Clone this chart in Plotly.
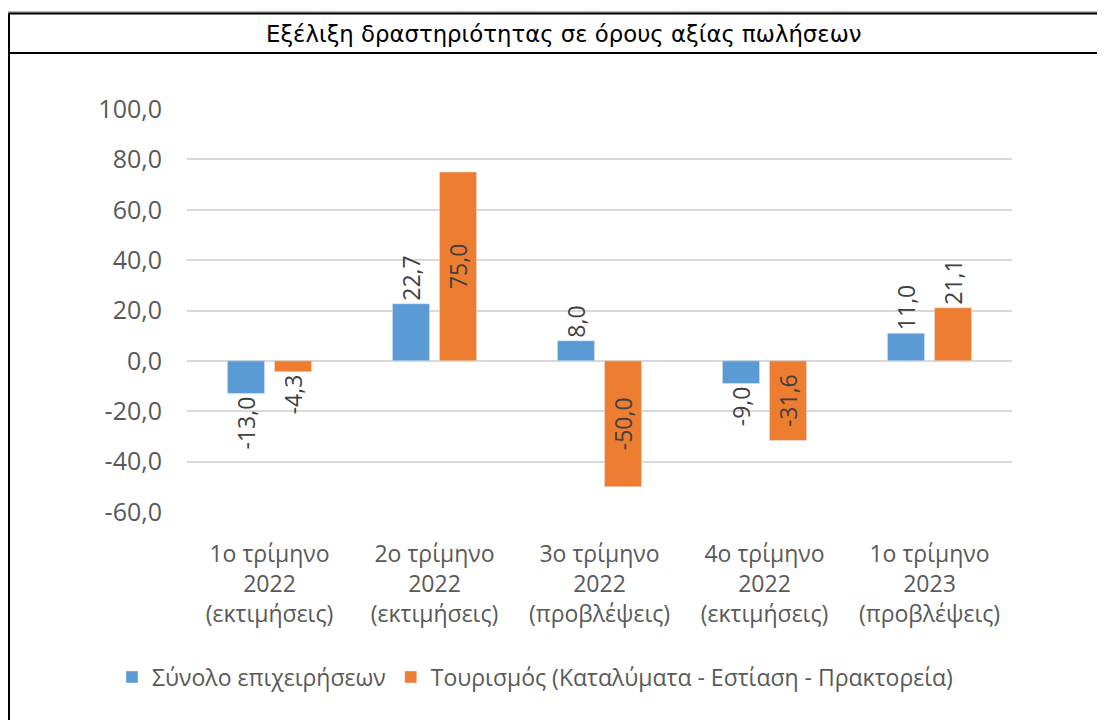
import plotly.graph_objects as go

# τρίμηνα και τιμές (%)
categories = [
    "1ο τρίμηνο<br>2022<br>(εκτιμήσεις)",
    "2ο τρίμηνο<br>2022<br>(εκτιμήσεις)",
    "3ο τρίμηνο<br>2022<br>(προβλέψεις)",
    "4ο τρίμηνο<br>2022<br>(εκτιμήσεις)",
    "1ο τρίμηνο<br>2023<br>(προβλέψεις)",
]
synolo = [-13.0, 22.7, 8.0, -9.0, 11.0]
tourismos = [-4.3, 75.0, -50.0, -31.6, 21.1]
tick_vals = [-60, -40, -20, 0, 20, 40, 60, 80, 100]

# η σελίδα έχει 8px περιθώριο στο body, οπότε όλα μετατοπίζονται
O = 8
W, H = 1105 - O, 720 - O
L, R, T, B = 187 - O, 1012 - O, 109 - O, 512 - O


def fmt(v):
    return f"{v:.1f}".replace(".", ",")


def px(x):
    return (x - O - L) / (R - L)


def py(y):
    return (B - (y - O)) / (B - T)


lbl_font = dict(family="Open Sans", size=23, color="#404040")
axis_font = dict(family="Open Sans", size=23, color="#595959")

fig = go.Figure()
fig.add_trace(go.Bar(
    x=categories, y=synolo, name="Σύνολο επιχειρήσεων",
    marker=dict(color="#5B9BD5"),
    text=[fmt(v) for v in synolo], textposition="outside",
    textangle=-90, textfont=lbl_font, cliponaxis=False,
    constraintext="none",
))
fig.add_trace(go.Bar(
    x=categories, y=tourismos,
    name="Τουρισμός (Καταλύματα - Εστίαση - Πρακτορεία)",
    marker=dict(color="#ED7D31"),
    text=[fmt(v) for v in tourismos],
    textposition=["outside", "inside", "inside", "inside", "outside"],
    insidetextanchor="middle",
    textangle=-90, textfont=lbl_font, cliponaxis=False,
    constraintext="none",
))

fig.update_layout(
    width=W, height=H,
    margin=dict(l=L, r=W - R, t=T, b=H - B),
    paper_bgcolor="white", plot_bgcolor="white",
    barmode="group", bargap=0.43, bargroupgap=0.21,
    font=axis_font,
    showlegend=True,
    legend=dict(
        orientation="h", x=px(112), xanchor="left", y=py(677), yanchor="middle",
        font=axis_font, itemwidth=30, traceorder="normal",
    ),
)
fig.update_yaxes(
    range=[-60, 100], tickvals=tick_vals, ticktext=[fmt(v) for v in tick_vals],
    showgrid=True, gridcolor="#D9D9D9", gridwidth=1.5,
    zeroline=True, zerolinecolor="#D9D9D9", zerolinewidth=1.5,
    showline=False, ticks="", ticklabelstandoff=24,
    tickfont=dict(family="Open Sans", size=25, color="#595959"),
)
fig.update_xaxes(
    showgrid=False, showline=False, ticks="",
    tickfont=axis_font, tickangle=0, ticklabelstandoff=26,
)

# τίτλος και πλαίσιο
fig.add_annotation(
    text="Εξέλιξη δραστηριότητας σε όρους αξίας πωλήσεων",
    xref="paper", yref="paper", x=px(563), y=py(34),
    xanchor="center", yanchor="middle", showarrow=False,
    font=dict(family="DejaVu Sans", size=22.8, color="black"),
)
fig.add_shape(type="line", xref="paper", yref="paper",
              x0=px(0), x1=px(1105), y0=py(12), y1=py(12),
              line=dict(color="#A6A6A6", width=1.5))
fig.add_shape(type="line", xref="paper", yref="paper",
              x0=px(8.5), x1=px(1105), y0=py(13.5), y1=py(13.5),
              line=dict(color="black", width=2))
fig.add_shape(type="line", xref="paper", yref="paper",
              x0=px(9), x1=px(9), y0=py(13.5), y1=py(720),
              line=dict(color="black", width=2))
fig.add_shape(type="line", xref="paper", yref="paper",
              x0=px(8.5), x1=px(1105), y0=py(53), y1=py(53),
              line=dict(color="black", width=2))

fig.write_html("out.html")
